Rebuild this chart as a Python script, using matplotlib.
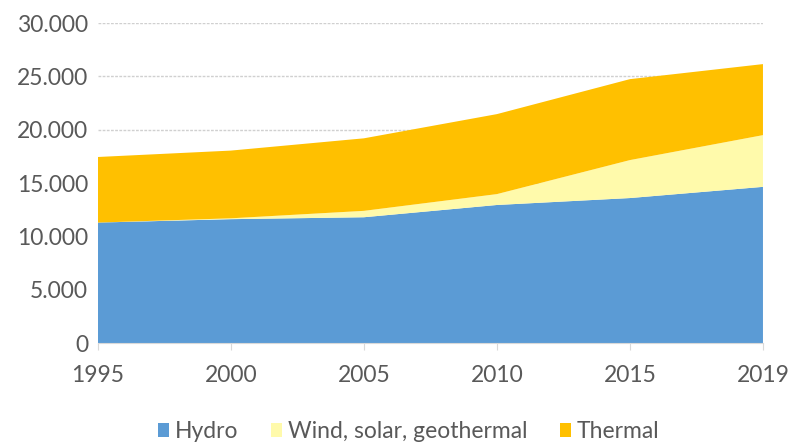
import matplotlib
matplotlib.use("Agg")
import matplotlib.pyplot as plt
from matplotlib.patches import Patch
import numpy as np

years = ["1995", "2000", "2005", "2010", "2015", "2019"]
hydro = [11300, 11620, 11800, 12950, 13600, 14650]
wind_solar_geo = [0, 80, 600, 1020, 3560, 4850]
thermal = [6150, 6350, 6800, 7500, 7590, 6660]

series_names = ["Hydro", "Wind, solar, geothermal", "Thermal"]
colors = ["#5B9BD5", "#FFFAAB", "#FFC000"]
y_ticks = [0, 5000, 10000, 15000, 20000, 25000, 30000]
y_tick_labels = ["0", "5.000", "10.000", "15.000", "20.000", "25.000", "30.000"]

plt.rcParams["font.family"] = ["Lato", "DejaVu Sans"]
text_color = "#595959"
fs = 16.5

fig = plt.figure(figsize=(7.89, 4.45), dpi=100)
ax = fig.add_axes([0.124, 0.229, 0.843, 0.719])

x = np.arange(len(years))
ax.stackplot(x, hydro, wind_solar_geo, thermal, colors=colors, zorder=2, linewidth=0)

ax.set_xlim(x[0], x[-1])
ax.set_ylim(0, 30000)
ax.set_yticks(y_ticks)
ax.set_yticklabels(y_tick_labels)
ax.set_xticks(x)
ax.set_xticklabels(years)

ax.grid(axis="y", color="#D0D0D0", linestyle=(0, (2, 1)), linewidth=1, zorder=0)
ax.set_axisbelow(True)

for side in ["left", "right", "top"]:
    ax.spines[side].set_visible(False)
ax.spines["bottom"].set_color("#D9D9D9")
ax.spines["bottom"].set_zorder(3)

ax.tick_params(axis="y", length=0, labelsize=fs, labelcolor=text_color, pad=7)
ax.tick_params(axis="x", length=5, color="#D9D9D9", labelsize=fs, labelcolor=text_color, pad=11)

handles = [Patch(facecolor=c, edgecolor="none") for c in colors]
fig.legend(handles, series_names, loc="center", bbox_to_anchor=(0.518, 0.03),
           ncol=3, frameon=False, fontsize=fs, labelcolor=text_color,
           handlelength=0.5, handleheight=0.5, handletextpad=0.25, columnspacing=1.4)

fig.savefig("out.png", dpi=100)
